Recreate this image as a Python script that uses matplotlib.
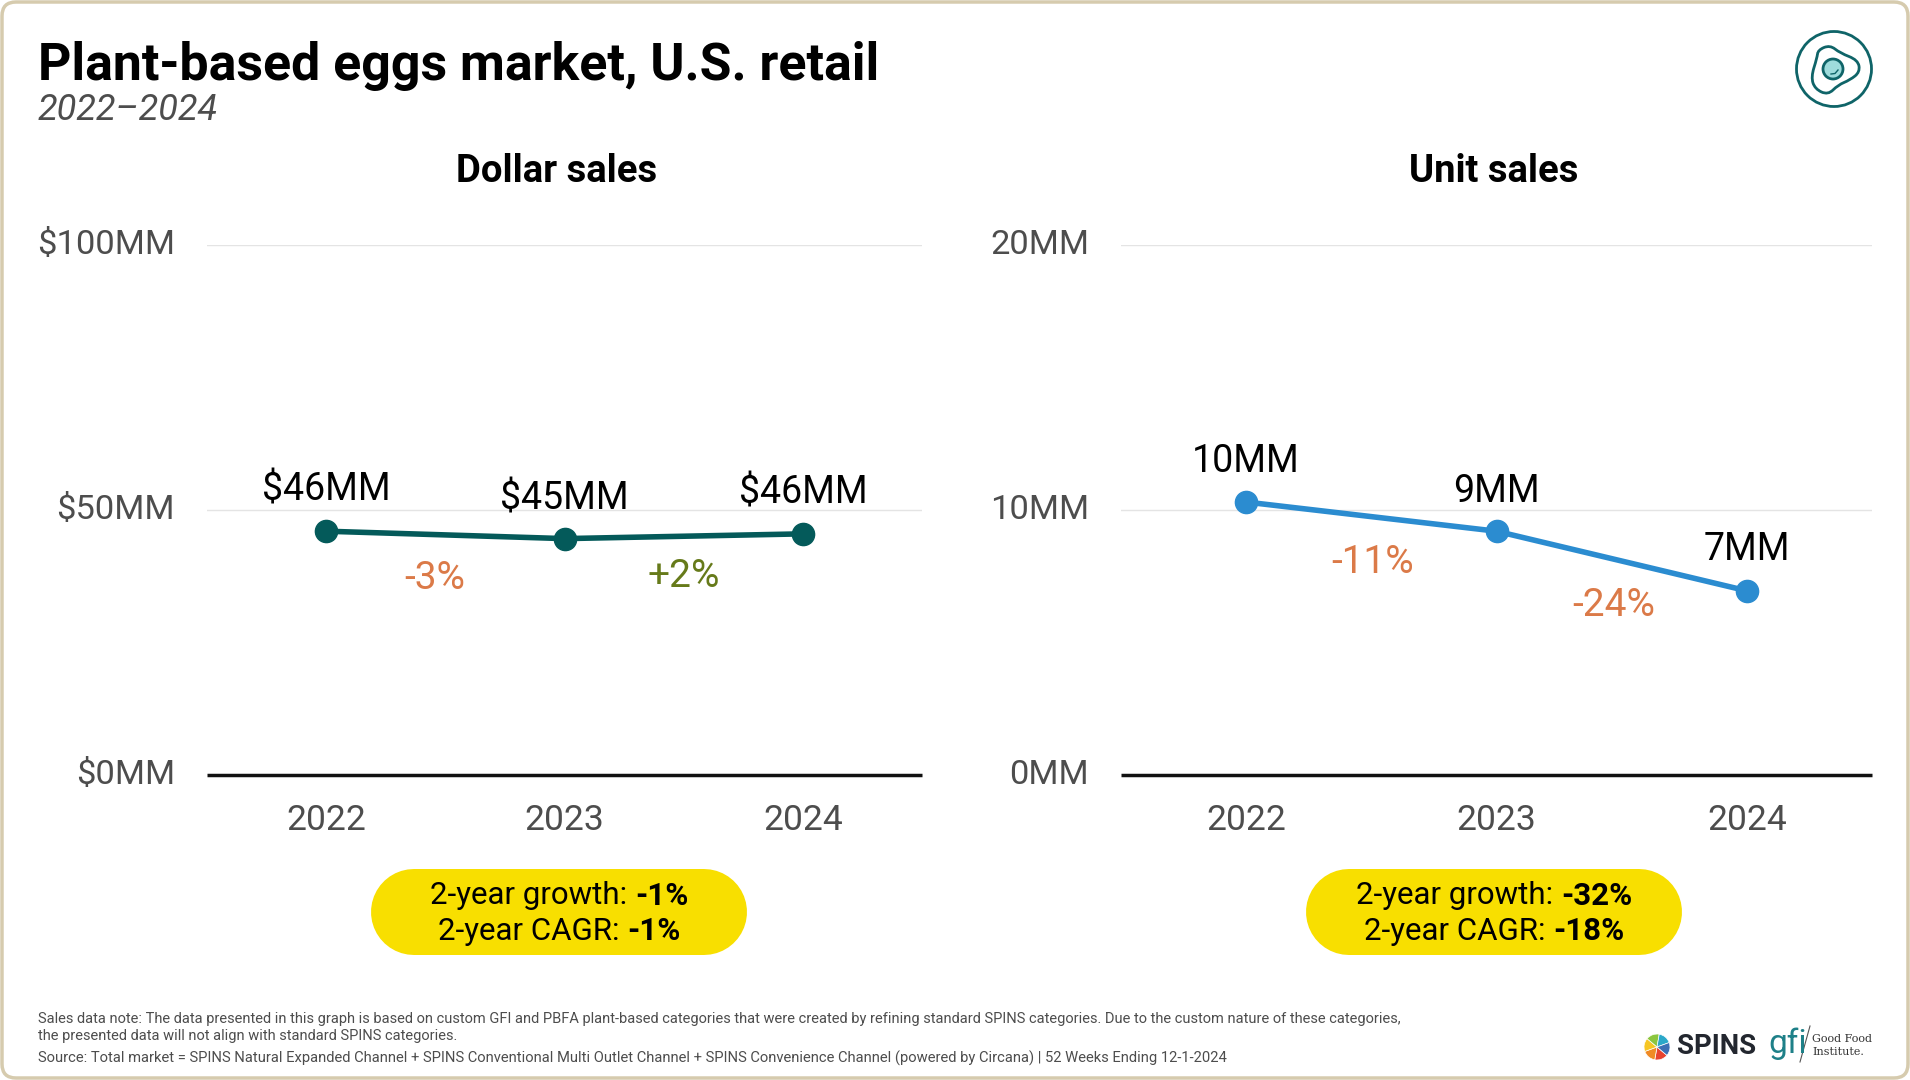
import matplotlib
matplotlib.use("Agg")
import matplotlib.pyplot as plt
from matplotlib.patches import FancyBboxPatch, Circle, PathPatch, Wedge
from matplotlib.path import Path
from matplotlib.transforms import ScaledTranslation

plt.rcParams["font.family"] = ["Roboto", "DejaVu Sans"]

years = ["2022", "2023", "2024"]
dollar_sales = [46.0, 44.6, 45.5]
unit_sales = [10.3, 9.2, 6.95]
dollar_labels = ["$46MM", "$45MM", "$46MM"]
unit_labels = ["10MM", "9MM", "7MM"]
dollar_ticks = [0, 50, 100]
dollar_ticklabels = ["$0MM", "$50MM", "$100MM"]
unit_ticks = [0, 10, 20]
unit_ticklabels = ["0MM", "10MM", "20MM"]
dollar_changes = ["-3%", "+2%"]
unit_changes = ["-11%", "-24%"]

W, H = 1910, 1080
TEAL = "#045A5A"
BLUE = "#2B8CD0"
ORANGE = "#DB7A48"
OLIVE = "#667A1A"
GREY = "#4D4D4D"
YELLOW = "#F8DF00"

fig = plt.figure(figsize=(W / 100, H / 100), dpi=100, facecolor="white")

# overlay in pixel coords for the frame, titles, pills and logos
bg = fig.add_axes([0, 0, 1, 1], zorder=0)
bg.set_xlim(0, W)
bg.set_ylim(H, 0)
bg.axis("off")
bg.add_patch(FancyBboxPatch((2, 2), W - 4, H - 4, boxstyle="round,pad=0,rounding_size=14",
                            fc="white", ec="#D6CBAE", lw=2.5))


def make_panel(rect_px, vals, ymax, ticks, ticklabels, labels, color, changes, change_colors, change_pos, label_off):
    x0, y0, x1, y1 = rect_px
    ax = fig.add_axes([x0 / W, 1 - y1 / H, (x1 - x0) / W, (y1 - y0) / H], zorder=1)
    ax.patch.set_alpha(0)
    ax.plot(years, vals, color=color, lw=4, marker="o", ms=16, solid_capstyle="round", zorder=3)
    ax.set_xlim(-0.5, 2.5)
    ax.set_ylim(0, ymax)
    ax.set_yticks(ticks)
    ax.set_yticklabels(ticklabels, fontsize=24.8, color=GREY)
    ax.tick_params(axis="y", length=0, pad=23)
    ax.tick_params(axis="x", length=0, pad=21, labelsize=25.5, labelcolor=GREY)
    # labels sit a little above their gridlines in the original
    up = ScaledTranslation(0, 0.035, fig.dpi_scale_trans)
    for lbl in ax.get_yticklabels():
        lbl.set_transform(lbl.get_transform() + up)
    ax.grid(axis="y", color="#E4E4E4", lw=1)
    ax.set_axisbelow(True)
    for s in ["top", "left", "right"]:
        ax.spines[s].set_visible(False)
    ax.spines["bottom"].set_linewidth(2.5)
    ax.spines["bottom"].set_color("#111111")
    ax.spines["bottom"].set_capstyle("butt")
    for i, (v, t) in enumerate(zip(vals, labels)):
        ax.annotate(t, (i, v), xytext=(0, label_off[i]), textcoords="offset pixels",
                    ha="center", va="center", fontsize=27, color="black")
    for (x, y), t, c in zip(change_pos, changes, change_colors):
        ax.text(x, y, t, ha="center", va="center", fontsize=28, color=c)
    return ax


make_panel((207, 245, 922, 775), dollar_sales, 100, dollar_ticks, dollar_ticklabels, dollar_labels,
           TEAL, dollar_changes, [ORANGE, OLIVE], [(0.455, 37), (1.5, 37.4)], [41, 40, 41])
make_panel((1121, 245, 1872, 775), unit_sales, 20, unit_ticks, unit_ticklabels, unit_labels,
           BLUE, unit_changes, [ORANGE, ORANGE], [(0.505, 8.03), (1.47, 6.4)], [41, 40, 41])

bg.text(38, 66, "Plant-based eggs market, U.S. retail", fontsize=37.4, fontweight="bold", color="black", va="center")
bg.text(38, 110, "2022–2024", fontsize=26, fontstyle="italic", color=GREY, va="center")
bg.text(557, 171, "Dollar sales", fontsize=27.5, fontweight="bold", ha="center", va="center")
bg.text(1494, 172, "Unit sales", fontsize=27.5, fontweight="bold", ha="center", va="center")


def pill(cx, l1, b1, l2, b2):
    # thick round-capped line gives a true stadium shape
    bg.plot([cx - 145, cx + 145], [912, 912], color=YELLOW, lw=86 * 0.72, solid_capstyle="round")
    r = fig.canvas.get_renderer()
    for y, a, b in [(896, l1, b1), (931, l2, b2)]:
        t1 = bg.text(cx, y, a + " ", fontsize=22.5, ha="right", va="center", color="black")
        t2 = bg.text(cx, y, b, fontsize=22.5, fontweight="bold", ha="left", va="center", color="black")
        # centre the two runs on the pill
        w1 = t1.get_window_extent(r).width
        w2 = t2.get_window_extent(r).width
        shift = (w1 - w2) / 2
        t1.set_x(cx + shift)
        t2.set_x(cx + shift)


pill(559, "2-year growth:", "-1%", "2-year CAGR:", "-1%")
pill(1494, "2-year growth:", "-32%", "2-year CAGR:", "-18%")

note = ("Sales data note: The data presented in this graph is based on custom GFI and PBFA plant-based categories "
        "that were created by refining standard SPINS categories. Due to the custom nature of these categories,")
bg.text(38, 1019, note, fontsize=10.53, color=GREY, va="center")
bg.text(38, 1036, "the presented data will not align with standard SPINS categories.", fontsize=10.53, color=GREY, va="center")
bg.text(38, 1058, "Source: Total market = SPINS Natural Expanded Channel + SPINS Conventional Multi Outlet Channel + "
        "SPINS Convenience Channel (powered by Circana) | 52 Weeks Ending 12-1-2024", fontsize=10.66, color=GREY, va="center")

# egg icon
icon = "#0F6468"
bg.add_patch(Circle((1834, 69), 37.5, fc="none", ec=icon, lw=2))
egg = [(1818, 50), (1830, 45), (1840, 53), (1858, 60), (1860, 72), (1850, 80), (1838, 85),
       (1828, 95), (1815, 89), (1811, 77), (1817, 58)]
verts = [((egg[-1][0] + egg[0][0]) / 2, (egg[-1][1] + egg[0][1]) / 2)]
codes = [Path.MOVETO]
for i, p in enumerate(egg):
    q = egg[(i + 1) % len(egg)]
    verts += [p, ((p[0] + q[0]) / 2, (p[1] + q[1]) / 2)]
    codes += [Path.CURVE3, Path.CURVE3]
bg.add_patch(PathPatch(Path(verts, codes), fc="none", ec=icon, lw=2))
bg.add_patch(Circle((1833, 69), 10, fc="#9EDCDC", ec=icon, lw=2))
bg.plot([1831, 1835, 1838], [74, 73.5, 70], color=icon, lw=1)

# logos
colors = ["#E8432F", "#F08A24", "#F6C624", "#8CC63F", "#2BA8C9", "#3D6FB4"]
for i, c in enumerate(colors):
    bg.add_patch(Wedge((1657, 1047), 13, 40 + i * 60, 100 + i * 60, fc=c, ec="white", lw=0.5))
bg.text(1677, 1047, "SPINS", fontsize=19.8, fontweight="bold", color="#23272F", va="center")
bg.text(1768, 1044, "gfi", fontsize=24, color="#1E8088", va="center", ha="left")
bg.plot([1810, 1800], [1026, 1062], color="#555555", lw=0.8)
bg.text(1812, 1039, "Good Food", fontsize=8, family="DejaVu Serif", color="#333333", va="center")
bg.text(1812, 1052, "Institute.", fontsize=8, family="DejaVu Serif", color="#333333", va="center")

fig.savefig("out.png", dpi=100)
